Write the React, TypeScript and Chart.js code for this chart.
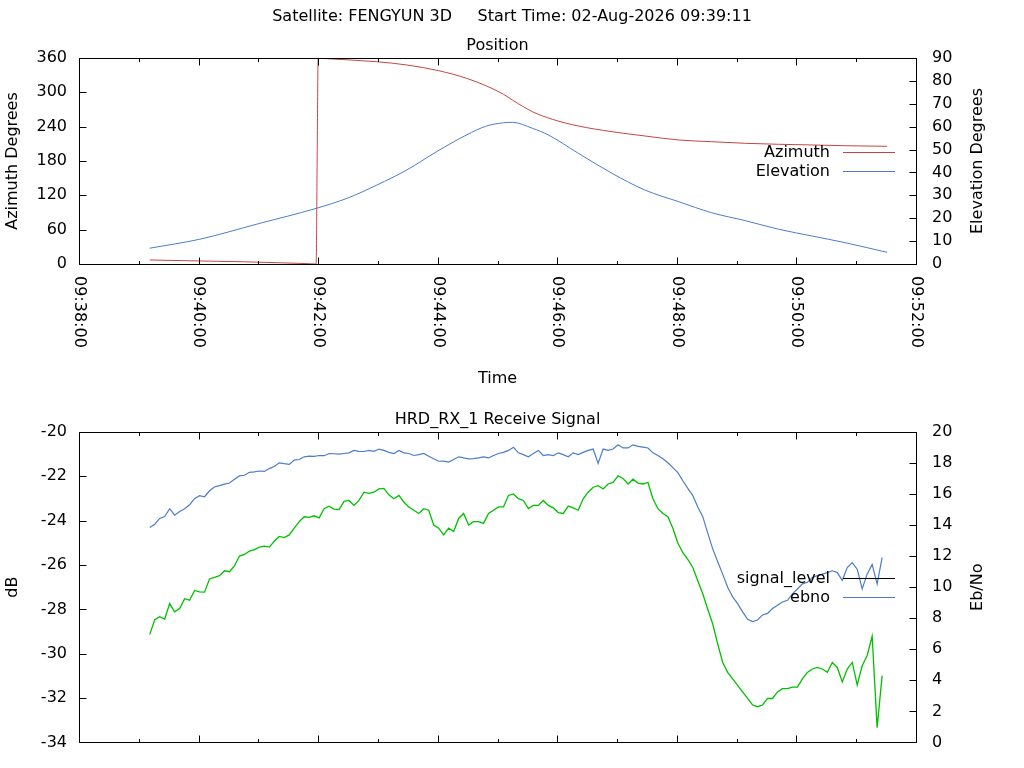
import { useEffect, useRef } from "react";
import { Chart, registerables } from "chart.js";
Chart.register(...registerables);

const FONT = '"DejaVu Sans", sans-serif';
const FONT_SIZE = 16;

const satellite = "FENGYUN 3D";
const startTime = "02-Aug-2026 09:39:11";
const timeRange = ["09:38:00", "09:52:00"];

// Position plot
const azTimes = [
  "09:39:11", "09:40:01", "09:40:45", "09:41:20", "09:41:47", "09:41:58", "09:41:59", "09:42:00",
  "09:42:09", "09:42:59", "09:43:29", "09:44:01", "09:44:29", "09:44:49", "09:45:06", "09:45:15",
  "09:45:35", "09:45:55", "09:46:21", "09:46:55", "09:47:28", "09:48:02", "09:48:35", "09:49:09",
  "09:49:42", "09:50:16", "09:50:49", "09:51:31",
];
const azimuth = [
  7.0, 5.3, 3.9, 2.2, 0.8, 0.0, 180.0, 359.9,
  358.8, 353.5, 347.8, 337.8, 324.5, 311.1, 296.6, 286.5,
  266.2, 252.9, 241.2, 231.2, 223.7, 216.7, 213.7, 210.9,
  209.2, 208.0, 206.7, 205.7,
];
const elTimes = [
  "09:39:11", "09:40:01", "09:41:00", "09:41:58", "09:42:29", "09:42:59", "09:43:29", "09:43:59",
  "09:44:29", "09:44:49", "09:45:06", "09:45:15", "09:45:35", "09:45:51", "09:46:21", "09:46:55",
  "09:47:28", "09:48:02", "09:48:35", "09:49:09", "09:49:42", "09:50:16", "09:50:49", "09:51:31",
];
const elevation = [
  6.9, 10.8, 17.6, 24.3, 28.7, 34.5, 41.1, 49.1,
  56.4, 60.3, 61.7, 61.9, 59.3, 56.4, 48.4, 39.6,
  32.3, 27.2, 22.4, 18.9, 15.2, 12.2, 9.3, 5.1,
];

// Receive signal plot, one sample every rxStep seconds from rxStart
const rxStart = "09:39:11";
const rxStep = 5;
const signalLevel = [
  -24.31, -24.16, -23.9, -23.81, -23.46, -23.75, -23.59, -23.46, -23.28, -23.01,
  -22.87, -22.92, -22.65, -22.48, -22.42, -22.35, -22.3, -22.13, -21.98, -21.95,
  -21.82, -21.8, -21.76, -21.78, -21.65, -21.56, -21.39, -21.43, -21.46, -21.27,
  -21.24, -21.12, -21.09, -21.1, -21.06, -21.07, -20.97, -20.98, -21.0, -20.97,
  -20.94, -20.83, -20.87, -20.88, -20.83, -20.87, -20.77, -20.83, -20.92, -20.97,
  -20.83, -20.94, -20.97, -21.06, -21.02, -20.97, -21.09, -21.21, -21.32, -21.31,
  -21.36, -21.24, -21.12, -21.17, -21.21, -21.2, -21.17, -21.12, -21.17, -21.06,
  -20.97, -20.92, -20.83, -20.69, -20.94, -21.02, -21.12, -20.97, -20.83, -21.06,
  -21.02, -21.06, -20.94, -21.02, -21.12, -20.94, -21.02, -20.92, -20.83, -20.77,
  -21.42, -20.77, -20.83, -20.77, -20.58, -20.72, -20.72, -20.58, -20.65, -20.68,
  -20.72, -20.94, -21.06, -21.21, -21.39, -21.61, -21.83, -22.2, -22.54, -22.87,
  -23.38, -23.82, -24.56, -25.27, -25.85, -26.41, -27.0, -27.44, -27.74, -28.11,
  -28.45, -28.55, -28.48, -28.25, -28.18, -27.96, -27.81, -27.67, -27.59, -27.3,
  -27.08, -26.85, -26.78, -26.56, -26.48, -26.41, -26.34, -26.26, -26.34, -26.69,
  -26.11, -25.89, -26.19, -27.08, -26.41, -25.97, -26.85, -25.67,
];
const ebno = [
  6.96, 7.9, 8.1, 7.95, 8.94, 8.42, 8.63, 9.26, 9.16, 9.79,
  9.7, 9.68, 10.53, 10.63, 10.74, 11.06, 11.0, 11.37, 12.01, 12.11,
  12.32, 12.42, 12.58, 12.64, 12.58, 12.96, 13.27, 13.2, 13.37, 13.8,
  14.22, 14.54, 14.5, 14.6, 14.47, 15.06, 15.22, 15.03, 15.0, 15.53,
  15.59, 15.27, 15.59, 16.12, 16.05, 16.12, 16.33, 16.37, 15.95, 15.7,
  15.91, 15.49, 15.17, 14.96, 14.75, 15.06, 14.96, 14.01, 13.8, 13.37,
  13.8, 13.59, 14.43, 14.75, 14.01, 14.22, 14.22, 14.11, 14.75, 14.96,
  15.17, 15.17, 15.91, 16.01, 15.7, 15.59, 15.06, 15.27, 15.27, 15.59,
  15.27, 15.11, 14.81, 14.75, 15.23, 15.11, 14.96, 15.7, 16.12, 16.44,
  16.54, 16.33, 16.65, 16.75, 17.17, 17.01, 16.65, 16.96, 16.71, 16.65,
  16.75, 15.7, 15.06, 14.75, 14.54, 13.8, 12.85, 12.22, 11.79, 11.27,
  10.42, 9.58, 8.58, 7.63, 6.35, 5.15, 4.51, 4.09, 3.67, 3.25,
  2.83, 2.41, 2.3, 2.41, 2.83, 2.83, 3.25, 3.46, 3.46, 3.56,
  3.56, 4.09, 4.51, 4.73, 4.83, 4.73, 4.51, 5.15, 4.83, 3.9,
  4.73, 5.15, 3.7, 4.94, 5.6, 6.84, 0.95, 4.3,
];

const RED = "#c84444";
const BLUE = "#4a7ec8";
const GREEN = "#00c000";

const toSec = (t: string) => {
  const [h, m, s] = t.split(":").map(Number);
  return h * 3600 + m * 60 + s;
};
const toHMS = (v: number) => {
  const h = Math.floor(v / 3600);
  const m = Math.floor((v % 3600) / 60);
  const s = v % 60;
  return [h, m, s].map((n) => String(n).padStart(2, "0")).join(":");
};

const xMin = toSec(timeRange[0]);
const xMax = toSec(timeRange[1]);
const rxTimes = signalLevel.map((_, i) => toSec(rxStart) + i * rxStep);

type FrameCfg = {
  pageTitle?: string;
  heading: string;
  xTitle?: string;
  xLabels: boolean;
  yTitle: string;
  y2Title: string;
  keys: { label: string; color: string }[];
};

function drawText(ctx: CanvasRenderingContext2D, s: string, x: number, y: number, align: CanvasTextAlign, rot = 0) {
  ctx.save();
  ctx.translate(x, y);
  ctx.rotate(rot);
  ctx.textAlign = align;
  ctx.textBaseline = "middle";
  ctx.fillText(s, 0, 0);
  ctx.restore();
}

// gnuplot style frame: inward ticks on all sides, rotated time labels, key at right centre
function makeFrame(cfg: FrameCfg) {
  return {
    id: "gnuplotFrame",
    afterDraw(chart: any) {
      const { ctx, chartArea: a, scales } = chart;
      const L = Math.round(a.left) + 0.5;
      const R = Math.round(a.right) + 0.5;
      const T = Math.round(a.top) + 0.5;
      const B = Math.round(a.bottom) + 0.5;
      ctx.save();
      ctx.strokeStyle = "#000";
      ctx.lineWidth = 1;
      ctx.beginPath();
      ctx.rect(L, T, R - L, B - T);
      for (const t of scales.x.ticks) {
        const px = Math.round(scales.x.getPixelForValue(t.value)) + 0.5;
        const len = (t.value - xMin) % 120 === 0 ? 7 : 3.5;
        ctx.moveTo(px, B);
        ctx.lineTo(px, B - len);
        ctx.moveTo(px, T);
        ctx.lineTo(px, T + len);
      }
      for (const t of scales.y.ticks) {
        const py = Math.round(scales.y.getPixelForValue(t.value)) + 0.5;
        ctx.moveTo(L, py);
        ctx.lineTo(L + 7, py);
      }
      for (const t of scales.y2.ticks) {
        const py = Math.round(scales.y2.getPixelForValue(t.value)) + 0.5;
        ctx.moveTo(R, py);
        ctx.lineTo(R - 7, py);
      }
      ctx.stroke();

      ctx.fillStyle = "#000";
      ctx.font = `${FONT_SIZE}px ${FONT}`;
      const cx = (a.left + a.right) / 2;
      const cy = (a.top + a.bottom) / 2;
      if (cfg.pageTitle) drawText(ctx, cfg.pageTitle, chart.width / 2, 17, "center");
      drawText(ctx, cfg.heading, cx, a.top - 12, "center");
      if (cfg.xTitle) drawText(ctx, cfg.xTitle, cx, a.bottom + 115, "center");
      drawText(ctx, cfg.yTitle, 13, cy, "center", -Math.PI / 2);
      drawText(ctx, cfg.y2Title, a.right + 62, cy, "center", -Math.PI / 2);
      if (cfg.xLabels) {
        for (const t of scales.x.ticks) {
          if ((t.value - xMin) % 120 !== 0) continue;
          drawText(ctx, toHMS(t.value), scales.x.getPixelForValue(t.value), a.bottom + 12, "left", Math.PI / 2);
        }
      }
      cfg.keys.forEach((k, i) => {
        const ky = Math.round(cy - 9.5 + i * 19) + 0.5;
        drawText(ctx, k.label, a.right - 86, ky, "right");
        ctx.strokeStyle = k.color;
        ctx.beginPath();
        ctx.moveTo(a.right - 73, ky);
        ctx.lineTo(a.right - 21, ky);
        ctx.stroke();
      });
      ctx.restore();
    },
  };
}

const plotLeft = 79;
const plotRight = 916;

function axisY(position: string, min: number, max: number, step: number, pad: number) {
  return {
    position,
    min,
    max,
    ticks: { stepSize: step, padding: pad, color: "#000", font: { family: FONT, size: FONT_SIZE } },
    grid: { display: false, drawTicks: false },
    border: { display: false },
    afterFit: (s: any) => {
      s.width = position === "left" ? plotLeft : 1024 - plotRight;
    },
  };
}

function axisX(height: number) {
  return {
    type: "linear",
    min: xMin,
    max: xMax,
    ticks: { display: false, stepSize: 60 },
    grid: { display: false, drawTicks: false },
    border: { display: false },
    afterFit: (s: any) => {
      s.height = height;
    },
  };
}

function lineSet(label: string, xs: number[], ys: number[], color: string, axis: string, smooth: boolean, width = 1) {
  return {
    label,
    data: xs.map((x, i) => ({ x, y: ys[i] })),
    borderColor: color,
    borderWidth: width,
    pointRadius: 0,
    pointHoverRadius: 0,
    yAxisID: axis,
    cubicInterpolationMode: smooth ? "monotone" : "default",
    tension: 0,
  };
}

function PositionChart() {
  const canvasRef = useRef<HTMLCanvasElement>(null);
  useEffect(() => {
    if (!canvasRef.current) return;
    const chart = new Chart(canvasRef.current, {
      type: "line",
      data: {
        datasets: [
          lineSet("Azimuth", azTimes.map(toSec), azimuth, RED, "y", true),
          lineSet("Elevation", elTimes.map(toSec), elevation, BLUE, "y2", true),
        ],
      },
      options: {
        responsive: false,
        animation: false,
        events: [],
        layout: { padding: { top: 58, left: 0, right: 0, bottom: 0 } },
        plugins: { legend: { display: false }, tooltip: { enabled: false } },
        scales: {
          x: axisX(400 - 264),
          y: axisY("left", 0, 360, 60, 12),
          y2: axisY("right", 0, 90, 10, 16),
        },
      } as any,
      plugins: [
        makeFrame({
          pageTitle: `Satellite: ${satellite}     Start Time: ${startTime}`,
          heading: "Position",
          xTitle: "Time",
          xLabels: true,
          yTitle: "Azimuth Degrees",
          y2Title: "Elevation Degrees",
          keys: [
            { label: "Azimuth", color: RED },
            { label: "Elevation", color: BLUE },
          ],
        }),
      ],
    } as any);
    return () => chart.destroy();
  }, []);
  return <canvas ref={canvasRef} width={1024} height={400} style={{ position: "absolute", left: 0, top: 0 }} />;
}

function SignalChart() {
  const canvasRef = useRef<HTMLCanvasElement>(null);
  useEffect(() => {
    if (!canvasRef.current) return;
    const chart = new Chart(canvasRef.current, {
      type: "line",
      data: {
        datasets: [
          lineSet("signal_level", rxTimes, signalLevel, BLUE, "y", false, 1.2),
          lineSet("ebno", rxTimes, ebno, GREEN, "y2", false, 1.3),
        ],
      },
      options: {
        responsive: false,
        animation: false,
        events: [],
        layout: { padding: { top: 32, left: 0, right: 0, bottom: 0 } },
        plugins: { legend: { display: false }, tooltip: { enabled: false } },
        scales: {
          x: axisX(368 - 348),
          y: axisY("left", -34, -20, 2, 12),
          y2: axisY("right", 0, 20, 2, 16),
        },
      } as any,
      plugins: [
        makeFrame({
          heading: "HRD_RX_1 Receive Signal",
          xLabels: false,
          yTitle: "dB",
          y2Title: "Eb/No",
          keys: [
            { label: "signal_level", color: "#000" },
            { label: "ebno", color: BLUE },
          ],
        }),
      ],
    } as any);
    return () => chart.destroy();
  }, []);
  return <canvas ref={canvasRef} width={1024} height={368} style={{ position: "absolute", left: 0, top: 400 }} />;
}

export default function App() {
  return (
    <div style={{ position: "absolute", left: 0, top: 0, width: 1024, height: 768, background: "#fff", overflow: "hidden" }}>
      <PositionChart />
      <SignalChart />
    </div>
  );
}
